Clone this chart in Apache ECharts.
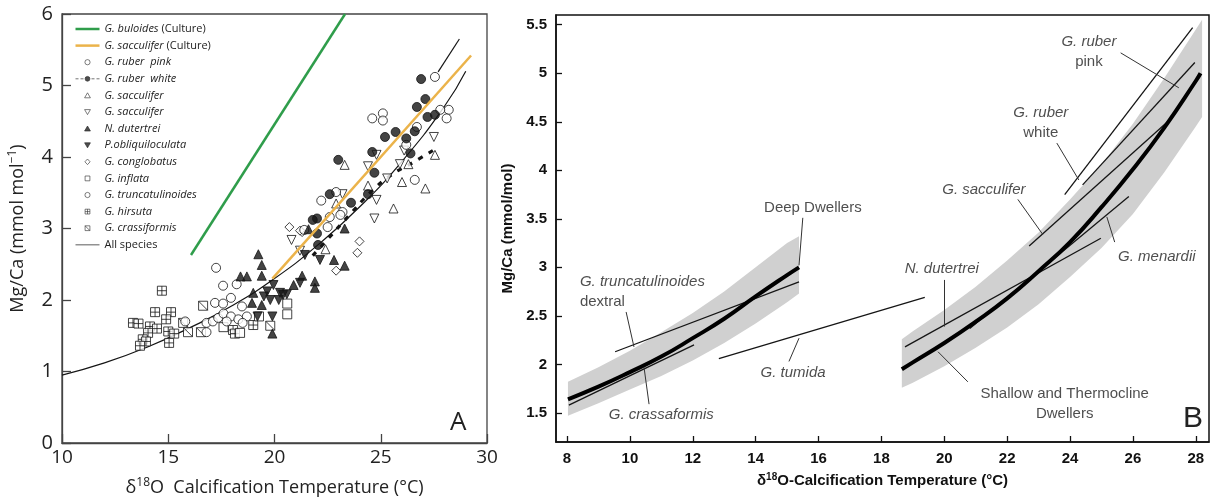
<!DOCTYPE html>
<html>
<head>
<meta charset="utf-8">
<script src="https://cdn.jsdelivr.net/npm/echarts@6/dist/echarts.min.js"></script>
<style>
html, body { margin: 0; padding: 0; background: #fff; }
#chart { width: 1210px; height: 497px; }
</style>
</head>
<body>
<div id="chart"></div>
<script>
// ---------- panel A : [temperature (°C), Mg/Ca] ----------
const buloidesCulture = [[16.07, 2.63], [23.32, 6.0]]
const sacculiferCulture = [[19.9, 2.3], [29.25, 5.42]]
const allSpecies = [[10, 0.95], [12, 1.12], [14, 1.34], [16, 1.61], [18, 1.92], [20, 2.3], [22, 2.76], [24, 3.3], [26, 3.94], [28, 4.71], [29.0, 5.2]]
const upperFit = [[27.7, 5.19], [28.7, 5.65]]
const ruberWhiteFit = [[21.8, 2.62], [22.5, 2.85], [23.5, 3.18], [24.5, 3.5], [25.5, 3.75], [26.5, 3.92], [27.5, 4.1]]

const ruberPink = [[24.6, 4.54], [25.1, 4.61], [25.1, 4.51], [22.2, 3.39], [22.9, 3.51], [23.2, 3.23], [22.5, 3.02], [22.6, 3.16],
  [27.55, 5.12], [28.2, 4.66], [28.1, 4.54], [27.8, 4.66], [26.2, 4.17], [26.7, 4.42], [26.6, 3.68], [21.4, 2.98], [23.1, 3.19]]
const ruberWhite = [[26.9, 5.09], [27.1, 4.81], [26.7, 4.7], [27.2, 4.56], [27.55, 4.59], [26.6, 4.36], [25.7, 4.35], [25.2, 4.28],
  [24.6, 4.07], [24.7, 3.78], [24.4, 3.48], [23.6, 3.36], [23.0, 3.96], [22.6, 3.48], [22.0, 3.14], [22.0, 2.93], [26.4, 4.05],
  [26.2, 4.26], [22.05, 2.77], [21.8, 3.12]]
const sacculiferUp = [[23.3, 3.89], [22.4, 2.71], [25.6, 3.28], [27.1, 3.56], [26.0, 3.65], [27.55, 4.03], [26.3, 3.9], [24.4, 3.6], [22.9, 3.35]]
const sacculiferDown = [[20.8, 2.84], [24.4, 3.87], [24.8, 4.03], [24.7, 3.14], [24.8, 3.4], [27.5, 4.28], [26.1, 4.09], [25.9, 3.9],
  [23.2, 3.48], [21.2, 2.69], [25.3, 3.7]]
const dutertrei = [[19.24, 2.64], [18.7, 2.33], [18.4, 2.33], [19.4, 2.49], [19.4, 2.34], [19.0, 2.1], [18.94, 1.96], [19.4, 1.93],
  [19.9, 1.53], [20.9, 2.21], [21.3, 2.34], [21.9, 2.26], [21.9, 2.17], [22.8, 2.56], [23.3, 2.48], [23.3, 3.0], [21.6, 2.99]]
const obliquiloculata = [[19.66, 2.12], [19.95, 2.21], [20.26, 2.1], [20.58, 2.08], [20.2, 2.0], [19.8, 2.0], [19.5, 2.05], [19.2, 1.77],
  [21.43, 2.63], [22.14, 2.56], [21.2, 2.24], [20.4, 2.07], [19.9, 1.77]]
const conglobatus = [[20.7, 3.02], [21.3, 2.95], [22.9, 2.41], [23.9, 2.66], [24.0, 2.82], [21.2, 2.97]]
const inflata = [[20.6, 1.95], [20.6, 1.8], [19.27, 1.77], [18.38, 1.54], [17.6, 1.62]]
const truncatulinoides = [[17.25, 2.45], [17.58, 2.2], [18.22, 2.22], [17.95, 2.03], [17.2, 1.96], [17.58, 1.95], [18.47, 1.91],
  [16.8, 1.68], [17.1, 1.7], [17.35, 1.75], [17.6, 1.81], [17.95, 1.77], [18.3, 1.73], [18.7, 1.77], [18.5, 1.68], [15.8, 1.7],
  [16.8, 1.55], [17.75, 1.7]]
const hirsuta = [[14.7, 2.13], [14.38, 1.83], [15.13, 1.83], [13.34, 1.68], [13.6, 1.67], [14.9, 1.73], [14.14, 1.63], [14.47, 1.6],
  [14.05, 1.54], [15.0, 1.56], [15.28, 1.53], [13.8, 1.45], [13.95, 1.42], [13.67, 1.36], [15.04, 1.4], [18.05, 1.58], [18.14, 1.53], [19.0, 1.65]]
const crassiformis = [[16.64, 1.92], [15.93, 1.55], [16.54, 1.55], [15.7, 1.68], [19.8, 1.64]]

// ---------- panel B ----------
const deepDwellers = [[8.03, 1.64], [9, 1.77], [10, 1.92], [11, 2.08], [12, 2.27], [13, 2.47], [14, 2.7], [15, 2.92], [15.38, 3.0]]
const deepBand = [[8.03, 1.47, 1.82], [9, 1.6, 1.97], [10, 1.74, 2.14], [11, 1.88, 2.33], [12, 2.04, 2.53], [13, 2.22, 2.75],
  [14, 2.42, 3.0], [15, 2.64, 3.25], [15.38, 2.73, 3.32]]
const shallowDwellers = [[18.65, 1.95], [19, 2.02], [20, 2.22], [21, 2.44], [22, 2.68], [23, 2.96], [24, 3.26], [25, 3.62],
  [26, 4.01], [27, 4.44], [28, 4.92], [28.15, 5.0]]
const shallowBand = [[18.65, 1.76, 2.26], [19, 1.81, 2.34], [20, 1.98, 2.56], [21, 2.17, 2.8], [22, 2.38, 3.07], [23, 2.62, 3.36],
  [24, 2.9, 3.7], [25, 3.2, 4.06], [26, 3.55, 4.48], [27, 3.98, 4.95], [28, 4.45, 5.45], [28.2, 4.55, 5.55]]
const speciesFitsB = [
  [[9.53, 2.13], [15.38, 2.85]],   // G. truncatulinoides dextral
  [[8.06, 1.58], [12.04, 2.2]],    // G. crassaformis
  [[12.83, 2.06], [19.38, 2.69]],  // G. tumida
  [[18.75, 2.18], [24.98, 3.3]],   // N. dutertrei
  [[20.81, 2.37], [25.87, 3.73]],  // G. menardii
  [[22.7, 3.22], [27.27, 4.55]],   // G. sacculifer
  [[23.83, 3.75], [27.9, 5.47]],   // G. ruber white
  [[24.4, 3.85], [27.97, 5.11]]    // G. ruber pink
]
const leadersB = [
  [[15.5, 3.51], [15.38, 3.02]],
  [[9.88, 2.54], [10.13, 2.18]],
  [[10.61, 1.59], [10.45, 1.97]],
  [[15.06, 2.03], [15.38, 2.27]],
  [[19.99, 2.87], [19.99, 2.39]],
  [[22.34, 3.7], [23.13, 3.34]],
  [[25.42, 3.26], [25.17, 3.52]],
  [[20.75, 1.82], [19.8, 2.13]],
  [[25.61, 5.21], [27.46, 4.85]],
  [[23.58, 4.28], [24.28, 3.9]]
]
const labelsB = [
  ['{n|Deep Dwellers}', [15.82, 3.61], 'center'],
  ['{i|G. truncatulinoides}\n{n|dextral}', [8.41, 2.75], 'left'],
  ['{i|G. crassaformis}', [11.0, 1.48], 'center'],
  ['{i|G. tumida}', [15.19, 1.91], 'center'],
  ['{i|N. dutertrei}', [19.92, 2.98], 'center'],
  ['{i|G. sacculifer}', [21.26, 3.8], 'center'],
  ['{i|G. menardii}', [26.76, 3.11], 'center'],
  ['{n|Shallow and Thermocline}\n{n|Dwellers}', [23.83, 1.59], 'center'],
  ['{i|G. ruber}\n{n|pink}', [24.6, 5.22], 'center'],
  ['{i|G. ruber}\n{n|white}', [23.07, 4.49], 'center']
]
const ticksBx = [8, 10, 12, 14, 16, 18, 20, 22, 24, 26, 28]
const ticksBy = [1.5, 2, 2.5, 3, 3.5, 4, 4.5, 5, 5.5]

const FA = 'Open Sans'
const FB = 'Liberation Sans'

// legend icons, drawn in a 24 x 8 box
const box = 'M0 0M24 8'
const icons = {
  line: 'path://' + box + 'M0 4H24',
  circle: 'path://' + box + 'M14.6 4A2.6 2.6 0 1 1 9.4 4A2.6 2.6 0 1 1 14.6 4Z',
  dotLine: 'path://' + box + 'M0 4H3M5 4H8M16 4H19M21 4H24M14.4 4A2.4 2.4 0 1 1 9.6 4A2.4 2.4 0 1 1 14.4 4Z',
  up: 'path://' + box + 'M12 1.4L14.9 6.4H9.1Z',
  down: 'path://' + box + 'M12 6.6L14.9 1.6H9.1Z',
  diamond: 'path://' + box + 'M12 1.2L14.6 4L12 6.8L9.4 4Z',
  square: 'path://' + box + 'M9.6 1.6H14.4V6.4H9.6Z',
  hirsuta: 'path://' + box + 'M9.6 1.6H14.4V6.4H9.6ZM12 1.6V6.4M9.6 4H14.4',
  crass: 'path://' + box + 'M9.6 1.6H14.4V6.4H9.6ZM9.6 1.6L14.4 6.4'
}
const GREEN = '#2f9d4b'
const ORANGE = '#ebb34a'
const INK = '#151515'

const openStyle = { color: '#fff', borderColor: INK, borderWidth: 1 }
const fillStyle = { color: INK, borderColor: INK, borderWidth: 1 }
const legOpen = { color: '#fff', borderColor: '#333', borderWidth: 0.8 }
const legFill = { color: '#222', borderColor: '#222', borderWidth: 0.8 }

const legendData = [
  { name: 'G. buloides (Culture)', icon: icons.line, itemStyle: { color: 'none', borderColor: GREEN, borderWidth: 2.5 } },
  { name: 'G. sacculifer (Culture)', icon: icons.line, itemStyle: { color: 'none', borderColor: ORANGE, borderWidth: 2.5 } },
  { name: 'G. ruber  pink', icon: icons.circle, itemStyle: legOpen },
  { name: 'G. ruber  white', icon: icons.dotLine, itemStyle: legFill },
  { name: 'G. sacculifer', icon: icons.up, itemStyle: legOpen },
  { name: 'G. sacculifer ', icon: icons.down, itemStyle: legOpen },
  { name: 'N. dutertrei', icon: icons.up, itemStyle: legFill },
  { name: 'P.obliquiloculata', icon: icons.down, itemStyle: legFill },
  { name: 'G. conglobatus', icon: icons.diamond, itemStyle: legOpen },
  { name: 'G. inflata', icon: icons.square, itemStyle: legOpen },
  { name: 'G. truncatulinoides', icon: icons.circle, itemStyle: legOpen },
  { name: 'G. hirsuta', icon: icons.hirsuta, itemStyle: legOpen },
  { name: 'G. crassiformis', icon: icons.crass, itemStyle: legOpen },
  { name: 'All species', icon: icons.line, itemStyle: { color: 'none', borderColor: '#777', borderWidth: 1.2 } }
]

function legendLabel(name) {
  if (name === 'All species') return '{n|' + name + '}'
  if (name.indexOf('(Culture)') > 0) return '{i|' + name.replace(' (Culture)', '') + '}{n| (Culture)}'
  return '{i|' + name.trim() + '}'
}

function scatterA(name, data, symbol, style, rotate) {
  return {
    name: name, type: 'scatter', xAxisIndex: 0, yAxisIndex: 0,
    symbol: symbol, symbolSize: 9, symbolRotate: rotate || 0,
    itemStyle: style, data: data, z: 4
  }
}
function lineA(name, data, color, width, type, z) {
  return {
    name: name, type: 'line', xAxisIndex: 0, yAxisIndex: 0, data: data, smooth: true,
    symbol: 'none', lineStyle: { color: color, width: width, type: type || 'solid' }, z: z || 3
  }
}
function bandB(band) {
  return {
    type: 'custom', xAxisIndex: 1, yAxisIndex: 1, silent: true, z: 1,
    data: band, encode: { x: 0, y: [1, 2] },
    renderItem: function (params, api) {
      if (params.dataIndex !== 0) return null
      const up = band.map(function (d) { return api.coord([d[0], d[2]]) })
      const lo = band.map(function (d) { return api.coord([d[0], d[1]]) }).reverse()
      return { type: 'polygon', shape: { points: up.concat(lo) }, style: { fill: '#d0d0d0' } }
    }
  }
}

const supA = { fontFamily: FA, fontSize: 12, color: '#222', padding: [0, 0, 10, 0] }
const nameA = { fontFamily: FA, fontSize: 18, color: '#222' }
const supB = { fontFamily: FB, fontSize: 10, fontWeight: 'bold', color: '#111', padding: [0, 0, 8, 0] }
const nameB = { fontFamily: FB, fontSize: 15, fontWeight: 'bold', color: '#111' }
const annRich = {
  i: { fontFamily: FB, fontSize: 15, fontStyle: 'italic', color: '#222', lineHeight: 20 },
  n: { fontFamily: FB, fontSize: 15, color: '#222', lineHeight: 20 }
}

const option = {
  animation: false,
  backgroundColor: '#fff',
  grid: [
    { left: 62, top: 14, width: 425, height: 429, show: true, borderColor: '#444', borderWidth: 1.3, outerBoundsMode: 'none', containLabel: false },
    { left: 556, top: 15, width: 653, height: 427, show: true, borderColor: '#111', borderWidth: 1.5, outerBoundsMode: 'none', containLabel: false }
  ],
  legend: {
    orient: 'vertical', left: 73, top: 22, padding: 0, itemWidth: 24, itemHeight: 8, itemGap: 2.6,
    selectedMode: false, data: legendData, formatter: legendLabel,
    textStyle: {
      fontFamily: FA, fontSize: 11, color: '#222', lineHeight: 14,
      rich: {
        i: { fontFamily: FA, fontSize: 11, fontStyle: 'italic', color: '#222', lineHeight: 14 },
        n: { fontFamily: FA, fontSize: 11, color: '#222', lineHeight: 14 }
      }
    }
  },
  xAxis: [
    {
      gridIndex: 0, type: 'value', min: 10, max: 30, interval: 5,
      axisLine: { lineStyle: { color: '#444', width: 1.3 } },
      axisTick: { inside: true, length: 9, lineStyle: { color: '#444', width: 1.3 } },
      axisLabel: { fontFamily: FA, fontSize: 19, color: '#222', margin: 5 },
      splitLine: { show: false },
      name: '{a|δ}{s|18}{a|O  Calcification Temperature (°C)}', nameLocation: 'middle', nameGap: 34,
      nameTextStyle: { rich: { a: nameA, s: supA } }
    },
    {
      gridIndex: 1, type: 'value', min: 7.65, max: 28.42,
      axisLine: { lineStyle: { color: '#111', width: 1.5 } },
      axisTick: { inside: true, length: 6, customValues: ticksBx, lineStyle: { color: '#111', width: 1.3 } },
      axisLabel: { fontFamily: FB, fontSize: 15, fontWeight: 'bold', color: '#111', margin: 9, customValues: ticksBx },
      splitLine: { show: false },
      name: '{a|δ}{s|18}{a|O-Calcification Temperature (°C)}', nameLocation: 'middle', nameGap: 30,
      nameTextStyle: { rich: { a: nameB, s: supB } }
    }
  ],
  yAxis: [
    {
      gridIndex: 0, type: 'value', min: 0, max: 6, interval: 1,
      axisLine: { lineStyle: { color: '#444', width: 1.3 } },
      axisTick: { inside: true, length: 9, lineStyle: { color: '#444', width: 1.3 } },
      axisLabel: { fontFamily: FA, fontSize: 20, color: '#222', margin: 9 },
      splitLine: { show: false },
      name: '{a|Mg/Ca (mmol mol}{s|−1}{a|)}', nameLocation: 'middle', nameGap: 33,
      nameTextStyle: { rich: { a: nameA, s: supA } }
    },
    {
      gridIndex: 1, type: 'value', min: 1.2, max: 5.6,
      axisLine: { lineStyle: { color: '#111', width: 1.5 } },
      axisTick: { inside: true, length: 6, customValues: ticksBy, lineStyle: { color: '#111', width: 1.3 } },
      axisLabel: { fontFamily: FB, fontSize: 15, fontWeight: 'bold', color: '#111', margin: 9, customValues: ticksBy },
      splitLine: { show: false },
      name: 'Mg/Ca (mmol/mol)', nameLocation: 'middle', nameGap: 40,
      nameTextStyle: nameB
    }
  ],
  series: [
    lineA('G. buloides (Culture)', buloidesCulture, GREEN, 2.5, 'solid', 2),
    lineA('G. sacculifer (Culture)', sacculiferCulture, ORANGE, 2.5, 'solid', 5),
    lineA('All species', allSpecies, INK, 1.2, 'solid', 3),
    lineA('upper fit', upperFit, INK, 1.2, 'solid', 3),
    lineA('ruber white fit', ruberWhiteFit, INK, 3.2, [5, 7], 3),
    scatterA('G. hirsuta', hirsuta, 'path://M0 0H10V10H0ZM5 0V10M0 5H10', openStyle),
    scatterA('G. crassiformis', crassiformis, 'path://M0 0H10V10H0ZM0 0L10 10', openStyle),
    scatterA('G. inflata', inflata, 'rect', openStyle),
    scatterA('G. truncatulinoides', truncatulinoides, 'circle', openStyle),
    scatterA('G. conglobatus', conglobatus, 'diamond', openStyle),
    scatterA('G. sacculifer', sacculiferUp, 'triangle', openStyle),
    scatterA('G. sacculifer ', sacculiferDown, 'triangle', openStyle, 180),
    scatterA('G. ruber  pink', ruberPink, 'circle', openStyle),
    scatterA('N. dutertrei', dutertrei, 'triangle', fillStyle),
    scatterA('P.obliquiloculata', obliquiloculata, 'triangle', fillStyle, 180),
    scatterA('G. ruber  white', ruberWhite, 'circle', fillStyle),

    bandB(deepBand),
    bandB(shallowBand),
    {
      type: 'lines', coordinateSystem: 'cartesian2d', xAxisIndex: 1, yAxisIndex: 1, z: 3, silent: true,
      lineStyle: { color: INK, width: 1.3, opacity: 1 },
      data: speciesFitsB.map(function (c) { return { coords: c } })
    },
    {
      type: 'line', xAxisIndex: 1, yAxisIndex: 1, data: deepDwellers, smooth: true, symbol: 'none', z: 4,
      lineStyle: { color: '#000', width: 4 }
    },
    {
      type: 'line', xAxisIndex: 1, yAxisIndex: 1, data: shallowDwellers, smooth: true, symbol: 'none', z: 4,
      lineStyle: { color: '#000', width: 4 }
    },
    {
      type: 'lines', coordinateSystem: 'cartesian2d', xAxisIndex: 1, yAxisIndex: 1, z: 5, silent: true,
      lineStyle: { color: '#333', width: 1, opacity: 1 },
      data: leadersB.map(function (c) { return { coords: c } })
    },
    {
      type: 'scatter', xAxisIndex: 1, yAxisIndex: 1, symbolSize: 1, z: 6, silent: true,
      itemStyle: { color: 'rgba(0,0,0,0)' },
      data: labelsB.map(function (l) {
        return {
          value: l[1],
          label: { show: true, position: 'inside', formatter: l[0], align: l[2], verticalAlign: 'middle', rich: annRich }
        }
      })
    }
  ],
  graphic: [
    { type: 'text', left: 450, top: 410, style: { text: 'A', font: '26px "Open Sans"', fill: '#222' } },
    { type: 'text', left: 1183, top: 404, style: { text: 'B', font: '30px "Liberation Sans"', fill: '#222' } }
  ]
}

const chart = echarts.init(document.getElementById('chart'))
chart.setOption(option)
</script>
</body>
</html>
